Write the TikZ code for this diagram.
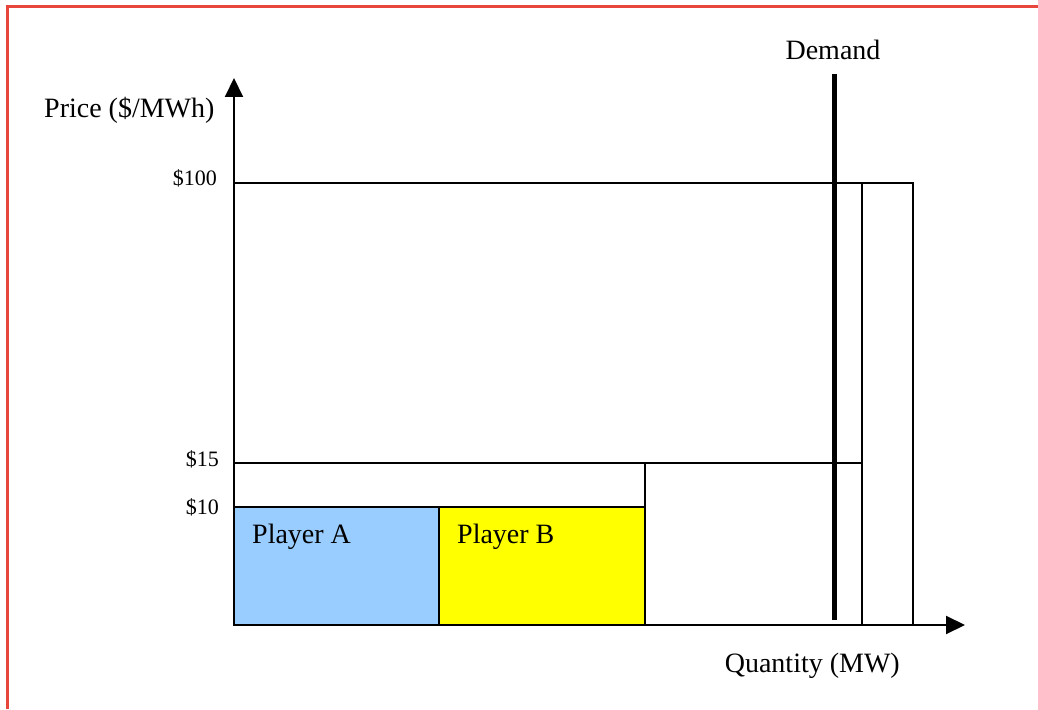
\documentclass[tikz,border=0pt]{standalone}
\usepackage{fontspec}
\setmainfont{Liberation Serif}
\usetikzlibrary{arrows.meta}
\definecolor{frame}{HTML}{E8453C}
\definecolor{pa}{HTML}{99CCFF}
\definecolor{pb}{HTML}{FFFF00}
\begin{document}
\begin{tikzpicture}[x=1pt,y=1pt,
 box/.style={draw=black,line width=1.5pt},
 axis/.style={line width=2pt,-{Triangle[length=19pt,width=18pt]}},
 big/.style={font=\fontsize{28}{32}\selectfont,inner sep=0pt},
 tick/.style={font=\fontsize{22}{26}\selectfont,inner sep=0pt,anchor=base east}]
\useasboundingbox (0,0) rectangle (1038,709);
\draw[frame, line width=3pt] (7,0) -- (7,702) -- (1038,702);
% bid blocks
\draw[box] (234,526) -- (913,526) -- (913,84);
\draw[box] (862,526) -- (862,84);
\draw[box] (234,246) -- (862,246);
\draw[box] (645,246) -- (645,84);
\draw[box,fill=pa] (234,202) rectangle (439,84);
\draw[box,fill=pb] (439,202) rectangle (645,84);
% axes
\coordinate (o) at (234,84);
\coordinate (ytip) at (234,631);
\coordinate (xtip) at (965,84);
\draw[axis] (o) -- (ytip);
\draw[axis] (o) -- (xtip);
% demand
\coordinate (dtop) at (834,635);
\coordinate (dbot) at (834,89);
\draw[line width=5pt] (dtop) -- (dbot);
% labels
\node[big,anchor=base west] (price) at (44,591) {Price (\$/MWh)};
\node[tick] (t100) at (217,523) {\$100};
\node[tick] (t15) at (219,242) {\$15};
\node[tick] (t10) at (219,194) {\$10};
\node[big,anchor=base west] (pA) at (252,165) {Player A};
\node[big,anchor=base west] (pB) at (457,165) {Player B};
\node[big,anchor=base] (dem) at (833,649) {Demand};
\node[big,anchor=base east] (qty) at (900,36) {Quantity (MW)};
\end{tikzpicture}
\end{document}
